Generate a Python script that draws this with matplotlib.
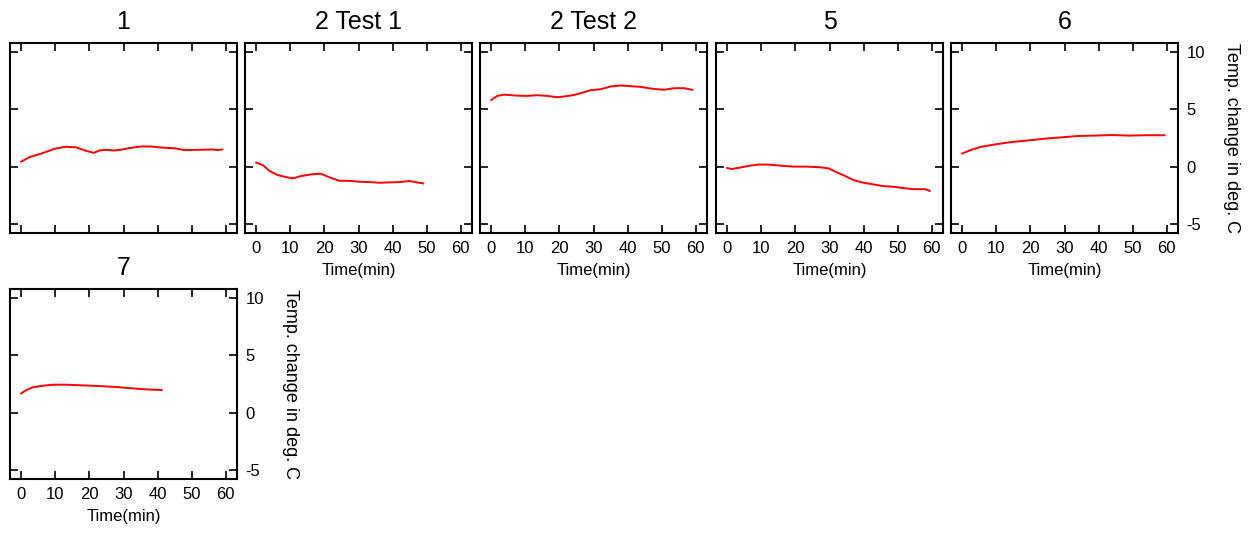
import matplotlib
matplotlib.use("Agg")
import matplotlib.pyplot as plt

plt.rcParams['font.family'] = ['Liberation Sans', 'DejaVu Sans']
plt.rcParams['axes.unicode_minus'] = False

# Temperature change records (time in min, change in deg. C)
t_1 = [0, 2.4, 6.3, 9.8, 13.2, 16.1, 19, 21.3, 22.9, 24.9, 27.3, 29.8, 31.7, 35.1, 38, 40.5, 45.4, 47.8, 52.2, 56.1, 57.6, 59]
v_1 = [0.44, 0.82, 1.18, 1.56, 1.74, 1.68, 1.38, 1.2, 1.41, 1.47, 1.41, 1.5, 1.62, 1.76, 1.76, 1.68, 1.59, 1.44, 1.47, 1.5, 1.44, 1.5]

t_2a = [0, 2, 3.9, 6.3, 8.3, 10.7, 13.2, 16.1, 19, 21.5, 24.4, 27.3, 30.2, 33.2, 36.1, 39, 42, 44.9, 46.8, 49]
v_2a = [0.35, 0.12, -0.38, -0.74, -0.88, -1.03, -0.82, -0.68, -0.62, -0.94, -1.24, -1.24, -1.32, -1.35, -1.41, -1.38, -1.35, -1.26, -1.35, -1.47]

t_2b = [0, 1.8, 3.8, 7.6, 10.6, 13.5, 16.4, 19.4, 21.3, 24.3, 27.2, 29.2, 32.1, 35, 38, 40.9, 43.8, 46.8, 50.7, 53.6, 56.6, 59]
v_2b = [5.82, 6.18, 6.29, 6.2, 6.18, 6.24, 6.18, 6.06, 6.12, 6.26, 6.5, 6.68, 6.76, 7.0, 7.09, 7.03, 6.97, 6.82, 6.71, 6.85, 6.85, 6.71]

t_5 = [0, 1.3, 3.7, 6.2, 9.1, 12.1, 15.5, 19.4, 23.3, 27.3, 29.7, 32.2, 34.6, 37.1, 40, 43, 45.9, 48.8, 51.7, 54.7, 58.1, 59.4]
v_5 = [-0.12, -0.21, -0.09, 0.06, 0.18, 0.18, 0.09, 0, 0, -0.06, -0.15, -0.5, -0.82, -1.18, -1.41, -1.56, -1.71, -1.76, -1.88, -1.97, -1.97, -2.12]

t_6 = [0, 2.7, 5.7, 9.6, 14.5, 19.4, 24.3, 29.2, 34.1, 39, 43.9, 48.8, 53.7, 59.4]
v_6 = [1.15, 1.47, 1.74, 1.94, 2.15, 2.29, 2.44, 2.56, 2.68, 2.71, 2.76, 2.71, 2.74, 2.74]

t_7 = [0, 1.5, 3.4, 6.3, 9.3, 13.2, 18, 22.9, 27.8, 32.7, 36.6, 41.2]
v_7 = [1.68, 1.97, 2.21, 2.35, 2.44, 2.44, 2.38, 2.32, 2.24, 2.12, 2.03, 1.97]

titles = ["1", "2 Test 1", "2 Test 2", "5", "6", "7"]
series = [(t_1, v_1), (t_2a, v_2a), (t_2b, v_2b), (t_5, v_5), (t_6, v_6), (t_7, v_7)]

x_ticks = [0, 10, 20, 30, 40, 50, 60]
y_ticks = [-5, 0, 5, 10]

W, H = 1254, 533
fig = plt.figure(figsize=(W / 100, H / 100), dpi=100)

ax_w, ax_h = 227, 190
lefts = [10, 245, 480, 716, 951]
tops = [43, 289]

# grid layout: 5 columns, panels fill row by row
for i, (title, (t, v)) in enumerate(zip(titles, series)):
    row, col = divmod(i, 5)
    left = lefts[col]
    top = tops[row]
    ax = fig.add_axes([left / W, 1 - (top + ax_h) / H, ax_w / W, ax_h / H])
    ax.plot(t, v, color="red", lw=1.4)
    ax.set_xlim(-3.3, 63.3)
    ax.set_ylim(-5.8, 10.8)
    ax.set_xticks(x_ticks)
    ax.set_yticks(y_ticks)
    for s in ax.spines.values():
        s.set_linewidth(1.5)
    ax.tick_params(direction="in", length=6, width=1.2, top=True, right=True,
                   left=True, bottom=True, labelsize=12, pad=6, colors="black")
    ax.set_title(title, fontsize=18, pad=10)

    last_in_row = (col == 4) or (i == len(titles) - 1)
    has_below = (row == 0 and col == 0)
    ax.tick_params(labelleft=False, labelright=last_in_row,
                   labelbottom=not has_below)
    if not has_below:
        ax.set_xlabel("Time(min)", fontsize=12, labelpad=5)
    if last_in_row:
        ax.yaxis.set_label_position("right")
        ax.set_ylabel("Temp. change in deg. C", fontsize=13, rotation=270,
                      labelpad=25)

fig.savefig("out.png", dpi=100)
